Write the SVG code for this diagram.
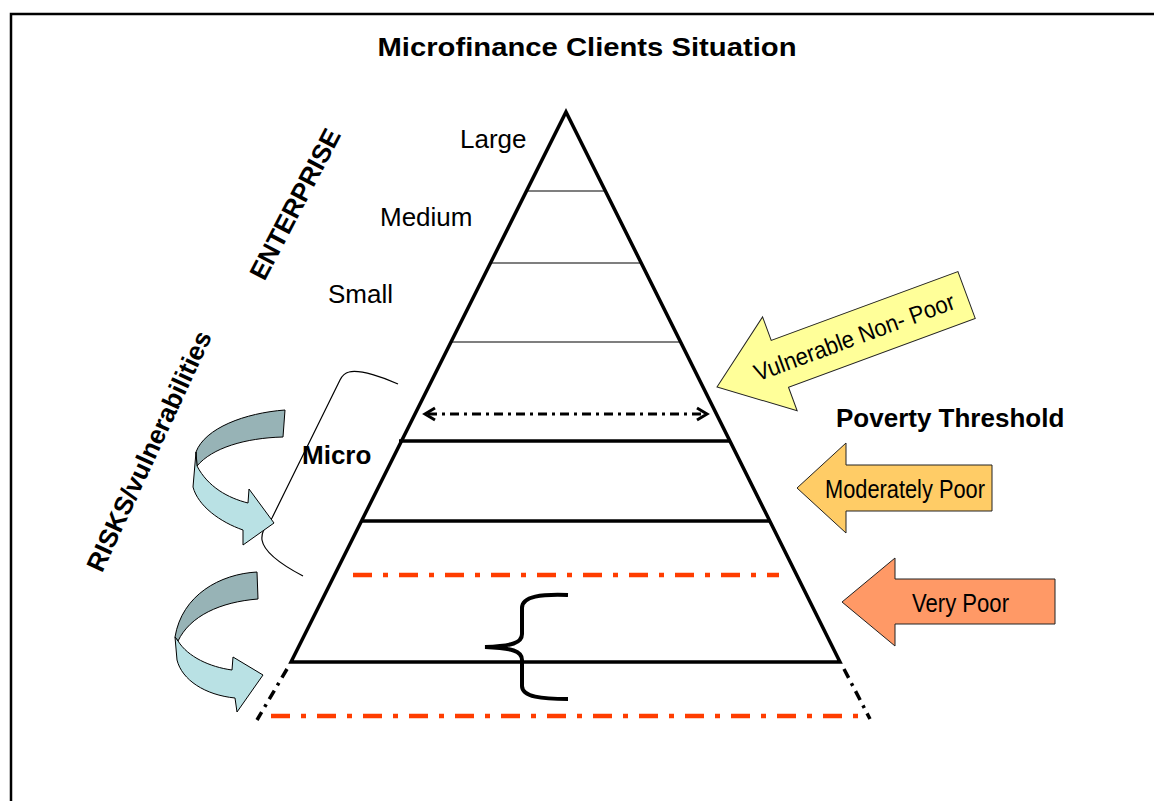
<svg xmlns="http://www.w3.org/2000/svg" width="1154" height="801" viewBox="0 0 1154 801">
<style>
text{font-family:"Liberation Sans",Arial,sans-serif;fill:#000}
.lbl{font-size:26px}
.b{font-weight:bold}
.thick{stroke:#000;stroke-width:3.5;fill:none}
.thin{stroke:#000;stroke-width:1.2;fill:none}
.red{stroke:#FF3D00;stroke-width:4.5;fill:none;stroke-dasharray:19 11 5 11}
.ext{stroke:#000;stroke-width:3.5;fill:none;stroke-dasharray:10 6 3 6}
.dark{fill:#97B3B6;stroke:#000;stroke-width:1}
.light{fill:#B9E1E4;stroke:#000;stroke-width:1}
.arw{stroke:#222;stroke-width:1}
</style>
<rect width="1154" height="801" fill="#fff"/>
<path d="M11,801 L11,14 L1154,14" fill="none" stroke="#000" stroke-width="2.5"/>
<text x="587" y="56" text-anchor="middle" class="b" font-size="25" textLength="419" lengthAdjust="spacingAndGlyphs">Microfinance Clients Situation</text>

<g id="pyramid">
<path class="thick" d="M291,662 L566,112 L840,662 Z"/>
<line class="thin" x1="527" y1="191" x2="605" y2="191"/>
<line class="thin" x1="491" y1="263" x2="641" y2="263"/>
<line class="thin" x1="451" y1="342" x2="681" y2="342"/>
<line class="thick" x1="399" y1="441" x2="730" y2="441"/>
<line class="thick" x1="361" y1="521" x2="770" y2="521"/>
</g>

<g id="thresholds">
<line class="red" x1="353" y1="575" x2="779" y2="575"/>
<line class="red" x1="271" y1="716" x2="868" y2="716"/>
<line class="ext" x1="287" y1="669" x2="257" y2="720"/>
<line class="ext" x1="844" y1="669" x2="870" y2="719"/>
</g>

<g id="connectors">
<line x1="428" y1="414" x2="704" y2="414" stroke="#000" stroke-width="3" stroke-dasharray="9 5 3 5"/>
<polyline points="435,408 425,414 435,420" fill="none" stroke="#000" stroke-width="3"/>
<polyline points="697,408 707,414 697,420" fill="none" stroke="#000" stroke-width="3"/>
<path class="thin" d="M398,384 C385,378 360,369 349,372 C344,373 342,376 340,380 L272,518 C266,527 261,531 262,540 C264,552 282,565 303,576"/>
<path d="M568,595 C542,594 522,596 522,608 L522,634 C522,643 512,646 485,647 C512,648 522,651 522,660 L522,686 C522,697 542,699 568,699" fill="none" stroke="#000" stroke-width="4"/>
</g>

<g id="risk-arrow-1">
<path class="dark" d="M285,410 C245,413 205,428 196,452 L197,466 C212,448 245,438 283,437 Z"/>
<path class="light" d="M196,452 L193,487 C198,506 220,522 243,530 L243,545 L274,523 L249,489 L248,503 C228,498 208,487 197,466 Z"/>
</g>
<g id="risk-arrow-2">
<path class="dark" d="M257,572 C220,574 182,595 175,637 L178,641 C190,616 220,602 258,599 Z"/>
<path class="light" d="M175,637 L177,660 C182,680 205,695 235,698 L237,712 L263,675 L233,657 L232,670 C210,667 188,657 178,641 Z"/>
</g>

<g id="labels">
<text class="lbl" x="460" y="148">Large</text>
<text class="lbl" x="380" y="226">Medium</text>
<text class="lbl" x="328" y="303">Small</text>
<text class="lbl b" x="302" y="464">Micro</text>
<text class="lbl b" x="836" y="427">Poverty Threshold</text>
<text class="lbl b" transform="translate(295,204) rotate(-62.4)" text-anchor="middle" y="9">ENTERPRISE</text>
<text class="lbl b" transform="translate(149,451) rotate(-65.1)" text-anchor="middle" y="9">RISKS/vulnerabilities</text>
</g>

<g id="vulnerable-non-poor" transform="translate(717,387) rotate(-20.24)">
<polygon class="arw" fill="#FFFF99" points="0,0 67,-50 67,-25 266,-25 266,25 67,25 67,50"/>
<text x="40" y="9" font-size="24" textLength="212" lengthAdjust="spacingAndGlyphs">Vulnerable Non- Poor</text>
</g>
<g id="moderately-poor">
<polygon class="arw" fill="#FFCC66" points="797,488 846,443 846,465 992,465 992,511 846,511 846,533"/>
<text x="825" y="498" font-size="25" textLength="160" lengthAdjust="spacingAndGlyphs">Moderately Poor</text>
</g>
<g id="very-poor">
<polygon class="arw" fill="#FF9966" points="842,602 895,558 895,579 1055,579 1055,624 895,624 895,646"/>
<text x="912" y="612" font-size="25" textLength="97" lengthAdjust="spacingAndGlyphs">Very Poor</text>
</g>
</svg>
